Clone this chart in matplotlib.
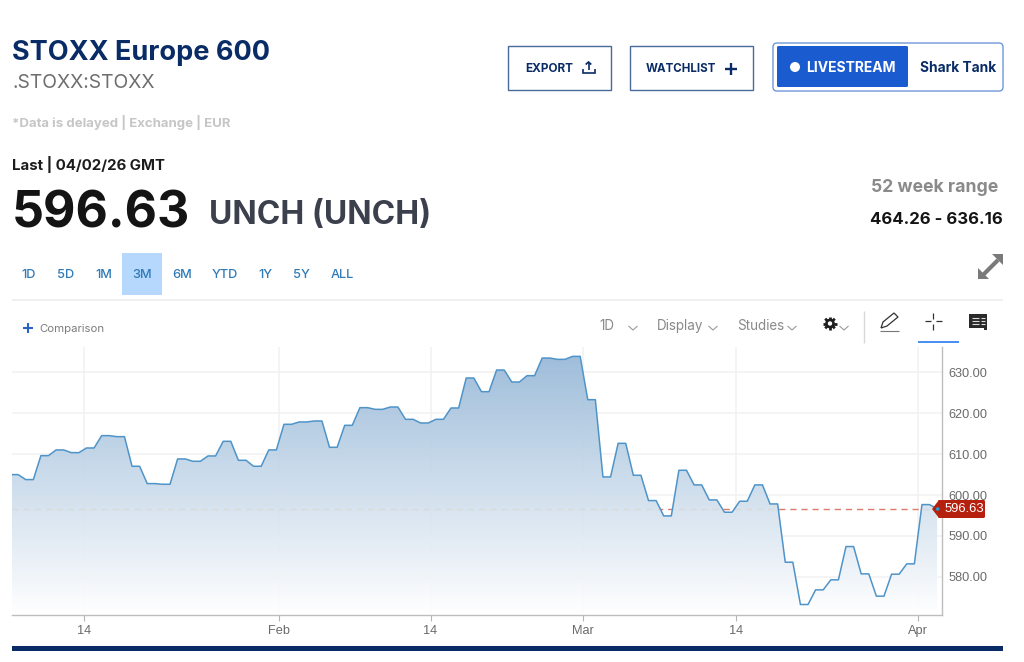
"""STOXX Europe 600 quote page with its 3M area chart."""
import matplotlib

matplotlib.use("Agg")
import matplotlib.pyplot as plt
import numpy as np
from matplotlib.patches import Circle, FancyBboxPatch, Polygon, Rectangle

W, H = 1024, 662
NAVY = "#0A2C66"
LINK = "#2F7AB8"
UI_FONT = "Inter"

# daily closes
closes = [
    605.00, 603.78, 609.64, 611.03, 610.37, 611.51, 614.53, 614.28, 607.04, 602.80,
    602.64, 608.83, 608.26, 609.56, 613.14, 608.50, 607.04, 611.03, 617.30, 617.87,
    618.11, 611.68, 617.05, 621.37, 620.96, 621.53, 618.52, 617.62, 618.52, 621.29,
    628.62, 625.28, 630.57, 627.64, 629.19, 633.50, 633.18, 633.91, 623.32, 604.43,
    612.65, 604.84, 598.65, 594.90, 606.06, 602.48, 598.81, 595.80, 598.49, 602.48,
    597.83, 583.58, 573.24, 576.82, 579.27, 587.41, 580.73, 575.28, 580.65, 583.18,
    597.67, 596.63,
]
last_price = 596.63
y_ticks = [580, 590, 600, 610, 620, 630]
x_tick_days = [4.6, 17.4, 27.4, 37.46, 47.5, 59.5]
x_tick_labels = ["14", "Feb", "14", "Mar", "14", "Apr"]
range_labels = ["1D", "5D", "1M", "3M", "6M", "YTD", "1Y", "5Y", "ALL"]
range_centers = [29, 66, 104, 142, 182, 225, 265, 301, 342]

fig = plt.figure(figsize=(W / 100, H / 100), dpi=100, facecolor="white")


def px_axes(left, top, right, bottom):
    return [left / W, 1 - bottom / H, (right - left) / W, (bottom - top) / H]


# --- chart ---
ax = fig.add_axes(px_axes(12, 347, 942, 615.3))
days = np.arange(len(closes))
# each day is a short plateau; the last one has only just started
xs = np.column_stack([days - 0.25, days + 0.25]).ravel()[:-1]
ys = np.repeat(closes, 2)[:-1]
ax.set_xlim(-0.153, 61.07)
ax.set_ylim(570.6, 636.2)

ax.set_yticks(y_ticks)
ax.set_yticklabels([f"{v:.2f}" for v in y_ticks], family="Liberation Sans", fontsize=9.2, color="#6A6A6A")
ax.set_xticks(x_tick_days)
ax.set_xticklabels(x_tick_labels, family="Liberation Sans", fontsize=9.2, color="#6A6A6A")
ax.yaxis.tick_right()
ax.tick_params(axis="y", length=0, pad=4.5)
ax.tick_params(axis="x", length=4, width=0.8, color="#B5B5B5", pad=3)
ax.grid(color="#F1F1F1", linewidth=1.1, zorder=0)
ax.set_axisbelow(True)
for name, spine in ax.spines.items():
    spine.set_visible(name in ("right", "bottom"))
    spine.set_color("#BDBDBD")
    spine.set_linewidth(1.0)

ax.axhline(last_price, color="#DE7B6C", linewidth=1, dashes=(4.5, 3.5), zorder=1)

# area fill with a vertical gradient, clipped to the price polygon
area = Polygon(
    np.column_stack([np.r_[xs, xs[-1], xs[0]], np.r_[ys, 570.6, 570.6]]),
    closed=True, facecolor="none", edgecolor="none", transform=ax.transData,
)
ax.add_patch(area)
ramp = np.linspace(0, 1, 256)[:, None, None]
top_rgb = np.array(matplotlib.colors.to_rgb("#98B9D8"))
bottom_rgb = np.array([1.0, 1.0, 1.0])
gradient = top_rgb * (1 - ramp) + bottom_rgb * ramp
img = ax.imshow(
    gradient, extent=(-0.153, 61.07, 570.6, 635.0), origin="upper",
    aspect="auto", zorder=2, alpha=0.95,
)
img.set_clip_path(area)
gray_dash = ax.axhline(last_price, color="#DADADA", linewidth=1, dashes=(4.5, 3.5), zorder=3)
gray_dash.set_clip_path(area)
ax.plot(xs, ys, color="#4F94C8", linewidth=1.1, zorder=4, solid_joinstyle="round")

# --- page furniture, in pixel coordinates ---
ui = fig.add_axes([0, 0, 1, 1], zorder=5)
ui.set_xlim(0, W)
ui.set_ylim(H, 0)
ui.axis("off")
ui.patch.set_alpha(0)


def label(x, y, s, size, color="#222222", weight="normal", ha="left", family=UI_FONT):
    ui.text(x, y, s, fontsize=size, color=color, fontweight=weight, ha=ha, va="center", family=family)


def stroke(xv, yv, color="#333333", lw=1.0):
    ui.plot(xv, yv, color=color, linewidth=lw, solid_capstyle="butt", solid_joinstyle="miter")


def chevron(x, y):
    stroke([x - 4.5, x, x + 4.5], [y - 2, y + 2, y - 2], "#9A9A9A", 0.8)


# header
label(12, 53.5, "STOXX Europe 600", 19.5, NAVY, "bold")
label(12, 83.5, ".STOXX:STOXX", 13.9, "#6E6E6E")
label(12, 122, "*Data is delayed | Exchange | EUR", 9.5, "#C6C6C6", "bold")
label(12, 164.5, "Last | 04/02/26 GMT", 10.8, "#1C1C1C", "bold")
label(12, 214, "596.63", 36, "#141414", "bold")
label(209, 215, "UNCH (UNCH)", 23, "#3B404C", "bold")
label(998, 187, "52 week range", 12.7, "#8A8A8A", "bold", ha="right")
label(1003, 219.5, "464.26 - 636.16", 12, "#141414", "bold", ha="right")

# buttons
for x0, x1 in [(508, 610.5), (630, 753)]:
    ui.add_patch(Rectangle((x0, 46), x1 - x0, 43.5, facecolor="white", edgecolor="#4A6A9A", linewidth=1))
label(525, 68.5, "EXPORT", 8.5, NAVY, "bold")
label(646, 68.5, "WATCHLIST", 8.3, NAVY, "bold")
stroke([582.5, 582.5, 594.5, 594.5], [69, 73, 73, 69], NAVY, 1.2)
stroke([588.5, 588.5], [70, 62], NAVY, 1.2)
stroke([585.7, 588.5, 591.3], [64.5, 62, 64.5], NAVY, 1.2)
stroke([725, 737], [68.5, 68.5], NAVY, 1.7)
stroke([731, 731], [62.5, 74.5], NAVY, 1.7)

ui.add_patch(FancyBboxPatch((773, 43), 230, 48, boxstyle="round,pad=0,rounding_size=4",
                            facecolor="white", edgecolor="#6F97D8", linewidth=1))
ui.add_patch(FancyBboxPatch((777, 46), 131, 41, boxstyle="round,pad=0,rounding_size=1.5",
                            facecolor="#1B5BD0", edgecolor="none"))
ui.add_patch(Circle((795, 67), 5, facecolor="white", edgecolor="none"))
label(806, 67.5, "LIVESTREAM", 10, "white", "bold")
label(920, 67.5, "Shark Tank", 9.9, NAVY, "bold")

# range selector
ui.add_patch(Rectangle((122, 253), 40, 42, facecolor="#B5D8FC", edgecolor="none"))
for name, cx in zip(range_labels, range_centers):
    label(cx, 274.5, name, 9.2, LINK, "medium", ha="center")
stroke([12, 1003], [300, 300], "#ECECEC", 1.2)

# expand icon
stroke([983, 998], [275, 260], "#7A7A7A", 3)
ui.add_patch(Polygon([(978, 279), (978, 268), (989, 279)], facecolor="#7A7A7A"))
ui.add_patch(Polygon([(1003, 254), (992, 254), (1003, 265)], facecolor="#7A7A7A"))

# toolbar
stroke([22.5, 33], [328, 328], "#2B62C8", 1.5)
stroke([27.7, 27.7], [322.7, 333.2], "#2B62C8", 1.5)
label(39, 328.5, "Comparison", 8.2, "#7D7D7D")
label(599, 326, "1D", 9.7, "#8A8A8A")
label(657, 326, "Display", 9.7, "#8A8A8A")
label(737, 326, "Studies", 9.7, "#8A8A8A")
for cx in (633, 713, 792, 844):
    chevron(cx, 328)
# gear
for angle in np.deg2rad([0, 45, 90, 135]):
    dx, dy = 6.8 * np.cos(angle), 6.8 * np.sin(angle)
    stroke([830 - dx, 830 + dx], [323.5 - dy, 323.5 + dy], "#1E1E1E", 2.0)
ui.add_patch(Circle((830, 323.5), 4.8, facecolor="#1E1E1E", edgecolor="none", zorder=3))
ui.add_patch(Circle((830, 323.5), 2.2, facecolor="white", edgecolor="none", zorder=3))
stroke([863.5, 863.5], [311, 343], "#D8D8D8", 1)
# pencil
stroke([881, 883, 894, 898, 887, 881, 881], [328, 322, 313, 317, 326, 328, 328], "#333333", 0.9)
stroke([880, 899], [331, 331], "#777777", 0.8)
# crosshair
stroke([925, 931], [321, 321], "#333333", 0.9)
stroke([935.5, 942], [321, 321], "#333333", 0.9)
stroke([933, 933], [312.5, 318.5], "#333333", 0.9)
stroke([933, 933], [323.5, 329.5], "#333333", 0.9)
ui.add_patch(Rectangle((918, 341), 41, 2.2, facecolor="#4A90F0", edgecolor="none"))
# note icon
ui.add_patch(Polygon([(969, 314), (987, 314), (987, 330), (984, 330), (984, 328), (969, 328)],
                     facecolor="#2A2A2A", edgecolor="none"))
for ny in (317.5, 320.5, 323.5):
    stroke([971.5, 979], [ny, ny], "#DDDDDD", 0.8)
    stroke([981, 985], [ny, ny], "#DDDDDD", 0.8)

# last price flag and end dot
ui.add_patch(FancyBboxPatch((938, 500), 47, 18, boxstyle="round,pad=0,rounding_size=1.5",
                            facecolor="#B5200F", edgecolor="none"))
ui.add_patch(Polygon([(932, 509), (939, 500), (939, 518)], facecolor="#B5200F", edgecolor="none"))
ui.add_patch(Circle((937.7, 509), 1.8, facecolor="#1E9FD5", edgecolor="none"))
ui.text(964.5, 509, f"{last_price:.2f}", fontsize=9.4, color="white", ha="center", va="center", family="Liberation Sans")

# footer rule
ui.add_patch(Rectangle((12, 646), 991, 5, facecolor=NAVY, edgecolor="none"))

fig.savefig("out.png", dpi=100)
plt.close(fig)
